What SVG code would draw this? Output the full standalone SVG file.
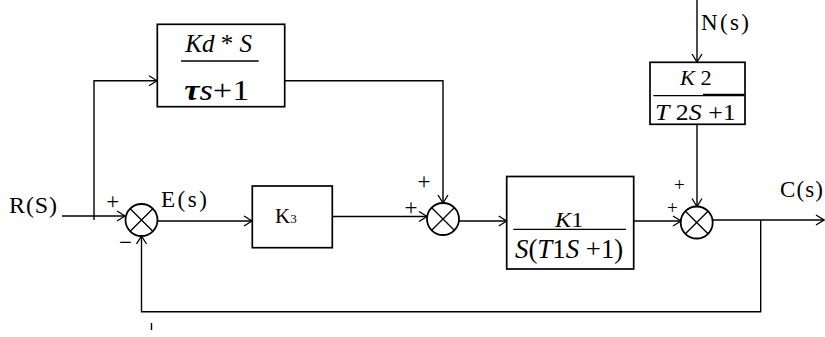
<svg xmlns="http://www.w3.org/2000/svg" width="825" height="337" viewBox="0 0 825 337">
<defs>
<marker id="arr" markerUnits="userSpaceOnUse" markerWidth="12" markerHeight="12" refX="9" refY="6" orient="auto">
<path d="M1,1 L9,6 L1,11" fill="none" stroke="#000" stroke-width="1.3"/>
</marker>
<style>
.box{fill:#fff;stroke:#000;stroke-width:1.7}
.sum{fill:#fff;stroke:#000;stroke-width:1.8}
.x{stroke:#000;stroke-width:1.3}
.ln{fill:none;stroke:#000;stroke-width:1.4}
.fr{stroke:#000;stroke-width:1.3}
.lbl{font-family:"Liberation Serif","DejaVu Serif",serif;fill:#000}
.m{font-family:"Liberation Serif","DejaVu Serif",serif;fill:#000}
.i{font-style:italic}
.sg{font-family:"Liberation Serif","DejaVu Serif",serif;font-size:23px;fill:#000;text-anchor:middle}
.sg2{font-family:"Liberation Serif","DejaVu Serif",serif;font-size:19px;fill:#000;text-anchor:middle}
</style>
</defs>
<rect width="825" height="337" fill="#fff"/>

<g id="connectors">
<path class="ln" d="M62,216 H125" marker-end="url(#arr)"/>
<path class="ln" d="M94,220 V80.7 H157" marker-end="url(#arr)"/>
<path class="ln" d="M252,80.7 H443 V203" marker-end="url(#arr)"/>
<path class="ln" d="M157.5,221 H252" marker-end="url(#arr)"/>
<path class="ln" d="M332,216.5 H427" marker-end="url(#arr)"/>
<path class="ln" d="M459,221 H506.7" marker-end="url(#arr)"/>
<path class="ln" d="M634,221 H681" marker-end="url(#arr)"/>
<path class="ln" d="M697,0 V62" marker-end="url(#arr)"/>
<path class="ln" d="M697,124.3 V206.5" marker-end="url(#arr)"/>
<path class="ln" d="M713,220 H824" marker-end="url(#arr)"/>
<path class="ln" d="M760.7,220 V311.7 H141.5 V236" marker-end="url(#arr)"/>
<path class="ln" d="M151.5,323 V330" stroke-width="1.6"/>
</g>

<g id="R">
<text class="lbl" x="9" y="213" font-size="24" textLength="48" lengthAdjust="spacing">R(S)</text>
</g>

<g id="sum1">
<circle class="sum" cx="141.5" cy="220" r="16"/>
<path class="x" d="M130.2,208.7 L152.8,231.3 M152.8,208.7 L130.2,231.3"/>
<text class="sg" x="112.7" y="208.5">+</text>
<text class="sg" x="125.5" y="250">−</text>
</g>

<g id="E">
<text class="lbl" x="161" y="206.7" font-size="23" textLength="46" lengthAdjust="spacing">E(s)</text>
</g>

<g id="Kd">
<rect class="box" x="157.3" y="24.3" width="127.4" height="82.4"/>
<text class="m" x="218.7" y="51.7" font-size="25" text-anchor="middle"><tspan class="i">Kd</tspan> * <tspan class="i">S</tspan></text>
<line class="fr" x1="181" y1="61" x2="258.7" y2="61"/>
<text class="m" x="184.3" y="100" font-size="30" textLength="65" lengthAdjust="spacingAndGlyphs"><tspan class="i" font-weight="bold">τ</tspan><tspan class="i">s</tspan>+1</text>
</g>

<g id="K3">
<rect class="box" x="252.3" y="186" width="80" height="61.7"/>
<text class="lbl" x="275" y="223.3" font-size="21">K<tspan font-size="13">3</tspan></text>
</g>

<g id="sum2">
<circle class="sum" cx="443" cy="219" r="16"/>
<path class="x" d="M431.7,207.7 L454.3,230.3 M454.3,207.7 L431.7,230.3"/>
<text class="sg" x="424" y="189">+</text>
<text class="sg" x="411" y="214.5">+</text>
</g>

<g id="K1">
<rect class="box" x="506.7" y="176.5" width="127" height="92.5"/>
<text class="m" x="555" y="226.5" font-size="22" textLength="28.3" lengthAdjust="spacingAndGlyphs"><tspan class="i">K</tspan>1</text>
<line class="fr" x1="513.3" y1="229.3" x2="626" y2="229.3"/>
<text class="m" x="515" y="258.3" font-size="27" textLength="108.3" lengthAdjust="spacingAndGlyphs"><tspan class="i">S</tspan>(<tspan class="i">T</tspan>1<tspan class="i">S</tspan> +1)</text>
</g>

<g id="N">
<text class="lbl" x="701" y="30" font-size="23" textLength="48" lengthAdjust="spacing">N(s)</text>
</g>

<g id="K2">
<rect class="box" x="650" y="62.3" width="95" height="62"/>
<text class="m" x="680" y="85" font-size="22" textLength="31.7" lengthAdjust="spacingAndGlyphs"><tspan class="i">K</tspan> 2</text>
<line class="fr" x1="653.3" y1="95.7" x2="744.3" y2="95.7"/>
<line class="fr" x1="703" y1="94.5" x2="744.3" y2="94.5" stroke-width="1"/>
<text class="m" x="655" y="120" font-size="24" textLength="80.7" lengthAdjust="spacingAndGlyphs"><tspan class="i">T</tspan> 2<tspan class="i">S</tspan> +1</text>
</g>

<g id="sum3">
<circle class="sum" cx="696.7" cy="222.5" r="16"/>
<path class="x" d="M685.4,211.2 L708,233.8 M708,211.2 L685.4,233.8"/>
<text class="sg2" x="679.3" y="191">+</text>
<text class="sg2" x="672.3" y="213.5">+</text>
</g>

<g id="C">
<text class="lbl" x="780" y="196.7" font-size="23" textLength="43" lengthAdjust="spacing">C(s)</text>
</g>
</svg>
